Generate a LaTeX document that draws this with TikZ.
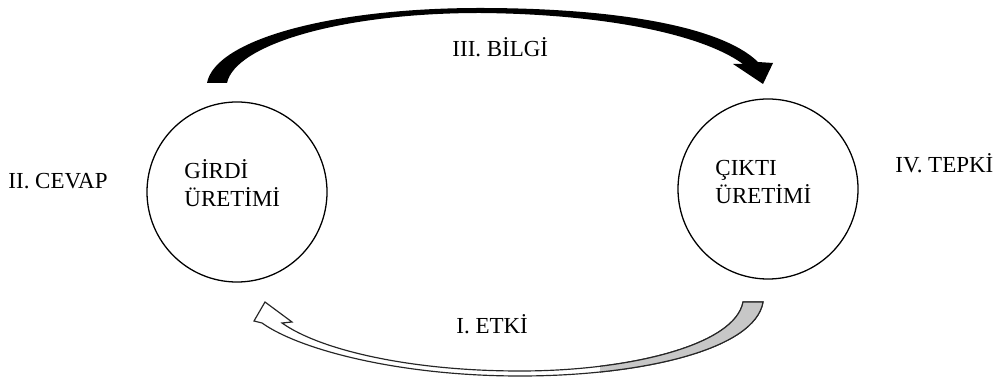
\documentclass[tikz,border=0pt]{standalone}
\usepackage{fontspec}
\setmainfont{Liberation Serif}
\usepackage{tikz}

\tikzset{
  unit/.style={draw, circle, line width=0.55pt, minimum size=27mm, inner sep=0pt},
  lbl/.style={font=\fontsize{9.8}{12}\selectfont, inner sep=0pt, anchor=base west},
}

\begin{document}
\begin{tikzpicture}[x=0.15mm, y=-0.15mm]

\useasboundingbox (0,0) rectangle (997,381);

% Circles
\node[unit] (girdi) at (237,192) {};
\node[unit] (cikti) at (768,189) {};

% Texts in the circles
\node[lbl] (g1) at (184,179) {GİRDİ};
\node[lbl] (g2) at (184,207) {ÜRETİMİ};
\node[lbl] (c1) at (715,176) {ÇIKTI};
\node[lbl] (c2) at (715,204) {ÜRETİMİ};

% Side labels
\node[lbl] (cevap) at (8,189) {II. CEVAP};
\node[lbl] (tepki) at (895,173) {IV. TEPKİ};
\node[lbl] (bilgi) at (452,57) {III. BİLGİ};
\node[lbl] (etki) at (456,334) {I. ETKİ};

% Top arrow (black, tapered)
\fill[black] (207,83) .. controls (215,40) and (330,8) .. (480,8)
  .. controls (610,8) and (720,25) .. (758,62)
  -- (773,63) -- (763,84) -- (733,64) -- (743,64)
  .. controls (700,33) and (600,14) .. (480,13)
  .. controls (340,13) and (235,45) .. (227,83)
  -- cycle;

% Bottom arrow (hollow, grey end)
\filldraw[fill=white, draw=black!85, line width=0.5pt, line join=miter] (763,302)
  .. controls (755,350) and (640,376) .. (520,376)
  .. controls (400,376) and (300,350) .. (262,323)
  -- (254,321) -- (265,302) -- (292,322) -- (282,323)
  .. controls (320,350) and (410,371) .. (520,371)
  .. controls (630,371) and (735,345) .. (743,302)
  -- cycle;
\begin{scope}
\clip (600,290) rectangle (800,381);
\filldraw[fill=black!22, draw=black!85, line width=0.5pt] (763,302)
  .. controls (755,350) and (640,376) .. (520,376)
  -- (520,371)
  .. controls (630,371) and (735,345) .. (743,302)
  -- cycle;
\end{scope}

\end{tikzpicture}
\end{document}
